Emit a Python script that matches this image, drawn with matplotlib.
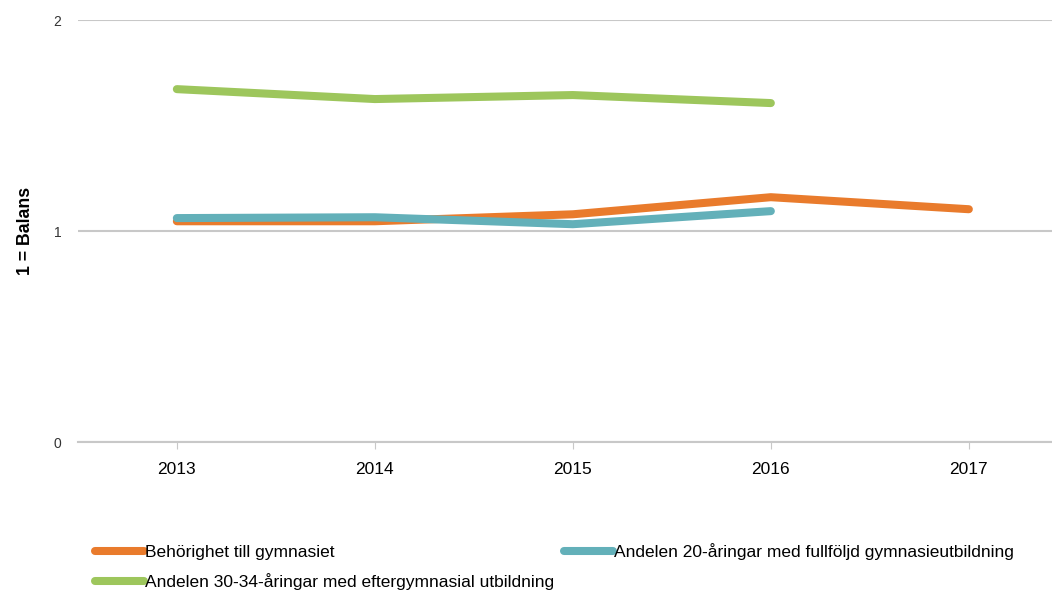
import matplotlib.pyplot as plt

plt.rcParams['font.family'] = ['Liberation Sans', 'DejaVu Sans']

years = [2013, 2014, 2015, 2016, 2017]
behorighet = [1.047, 1.047, 1.080, 1.161, 1.104]
andel20 = [1.062, 1.066, 1.033, 1.095]
andel3034 = [1.673, 1.626, 1.645, 1.607]

labels = ['Behörighet till gymnasiet',
          'Andelen 20-åringar med fullföljd gymnasieutbildning',
          'Andelen 30-34-åringar med eftergymnasial utbildning']
colors = ['#E97B2C', '#63B0B9', '#9DC65C']

fig = plt.figure(figsize=(10.52, 5.92), dpi=100)
ax = fig.add_axes([0.074, 0.253, 0.926, 0.713])

l1, = ax.plot(years, behorighet, color=colors[0], lw=5.8, solid_capstyle='round', label=labels[0])
l2, = ax.plot(years[:4], andel20, color=colors[1], lw=5.8, solid_capstyle='round', label=labels[1])
l3, = ax.plot(years[:4], andel3034, color=colors[2], lw=5.8, solid_capstyle='round', label=labels[2])

ax.set_ylim(0, 2)
ax.set_yticks([0, 1, 2])
ax.set_xlim(2012.5, 2017.42)
ax.set_xticks(years)
ax.grid(axis='y', color='#C8C8C8', lw=1.5)
ax.set_axisbelow(True)
for s in ['top', 'right', 'left']:
    ax.spines[s].set_visible(False)
ax.spines['bottom'].set_color('#C8C8C8')
ax.spines['bottom'].set_linewidth(1.5)
ax.tick_params(axis='y', length=0, labelsize=10, pad=12, labelcolor='#333333')
ax.tick_params(axis='x', length=5, color='#C8C8C8', labelsize=12.5, pad=9)
ax.set_ylabel('1 = Balans', fontsize=12.8, fontweight='bold', labelpad=14)

fig.legend([l1, l3, l2], [labels[0], labels[2], labels[1]], ncol=2,
           loc='upper left', bbox_to_anchor=(0.084, 0.095), frameon=False,
           fontsize=12.5, handlelength=2.8, handletextpad=0.05,
           columnspacing=0.6, labelspacing=0.8, borderaxespad=0)

fig.savefig('out.png', dpi=100)
